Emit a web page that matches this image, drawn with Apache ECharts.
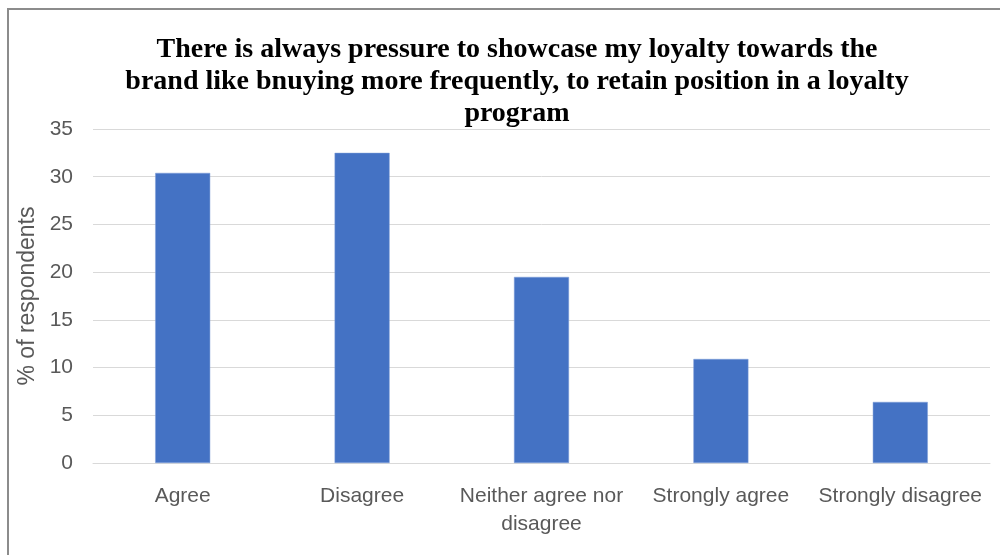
<!DOCTYPE html>
<html>
<head>
<meta charset="utf-8">
<style>
  html, body { margin: 0; padding: 0; background: #ffffff; }
  #chart { width: 1000px; height: 555px; }
</style>
<script src="https://cdn.jsdelivr.net/npm/echarts@6/dist/echarts.min.js"></script>
</head>
<body>
<div id="chart"></div>
<script>
// Survey responses: share of respondents for each answer
const categories = ['Agree', 'Disagree', 'Neither agree nor\ndisagree', 'Strongly agree', 'Strongly disagree'];
const percentValues = [30.4, 32.5, 19.5, 10.9, 6.4];
const yTicks = [0, 5, 10, 15, 20, 25, 30, 35];

const titleText = 'There is always pressure to showcase my loyalty towards the\nbrand like bnuying more frequently, to retain position in a loyalty\nprogram';

const chart = echarts.init(document.getElementById('chart'), null, { renderer: 'canvas' });

chart.setOption({
  animation: false,
  backgroundColor: '#ffffff',
  graphic: [{
    type: 'rect',
    shape: { x: 8, y: 9, width: 1100, height: 700 },
    style: { fill: 'none', stroke: '#8c8c8c', lineWidth: 2 },
    silent: true
  }],
  title: {
    text: titleText,
    left: 512,
    textAlign: 'center',
    top: 29,
    textStyle: {
      fontFamily: 'Liberation Serif',
      fontWeight: 'bold',
      fontSize: 28,
      lineHeight: 32,
      color: '#000000'
    }
  },
  grid: { left: 93, right: 10, top: 129, bottom: 92, containLabel: false },
  xAxis: {
    type: 'category',
    data: categories,
    axisTick: { show: false },
    axisLine: { lineStyle: { color: '#d9d9d9', width: 1 } },
    axisLabel: {
      color: '#595959',
      fontFamily: 'Liberation Sans',
      fontSize: 21,
      lineHeight: 28,
      margin: 19,
      interval: 0
    }
  },
  yAxis: {
    type: 'value',
    min: yTicks[0],
    max: yTicks[yTicks.length - 1],
    interval: 5,
    name: '% of respondents',
    nameLocation: 'middle',
    nameGap: 46,
    nameTextStyle: { color: '#595959', fontFamily: 'Liberation Sans', fontSize: 23 },
    axisLine: { show: false },
    axisTick: { show: false },
    axisLabel: { color: '#595959', fontFamily: 'Liberation Sans', fontSize: 21, margin: 20 },
    splitLine: { lineStyle: { color: '#d9d9d9', width: 1 } }
  },
  series: [{
    type: 'bar',
    data: percentValues,
    barWidth: 55,
    itemStyle: { color: '#4472c4', borderColor: '#7f9fd8', borderWidth: 0.5 }
  }]
});
</script>
</body>
</html>
